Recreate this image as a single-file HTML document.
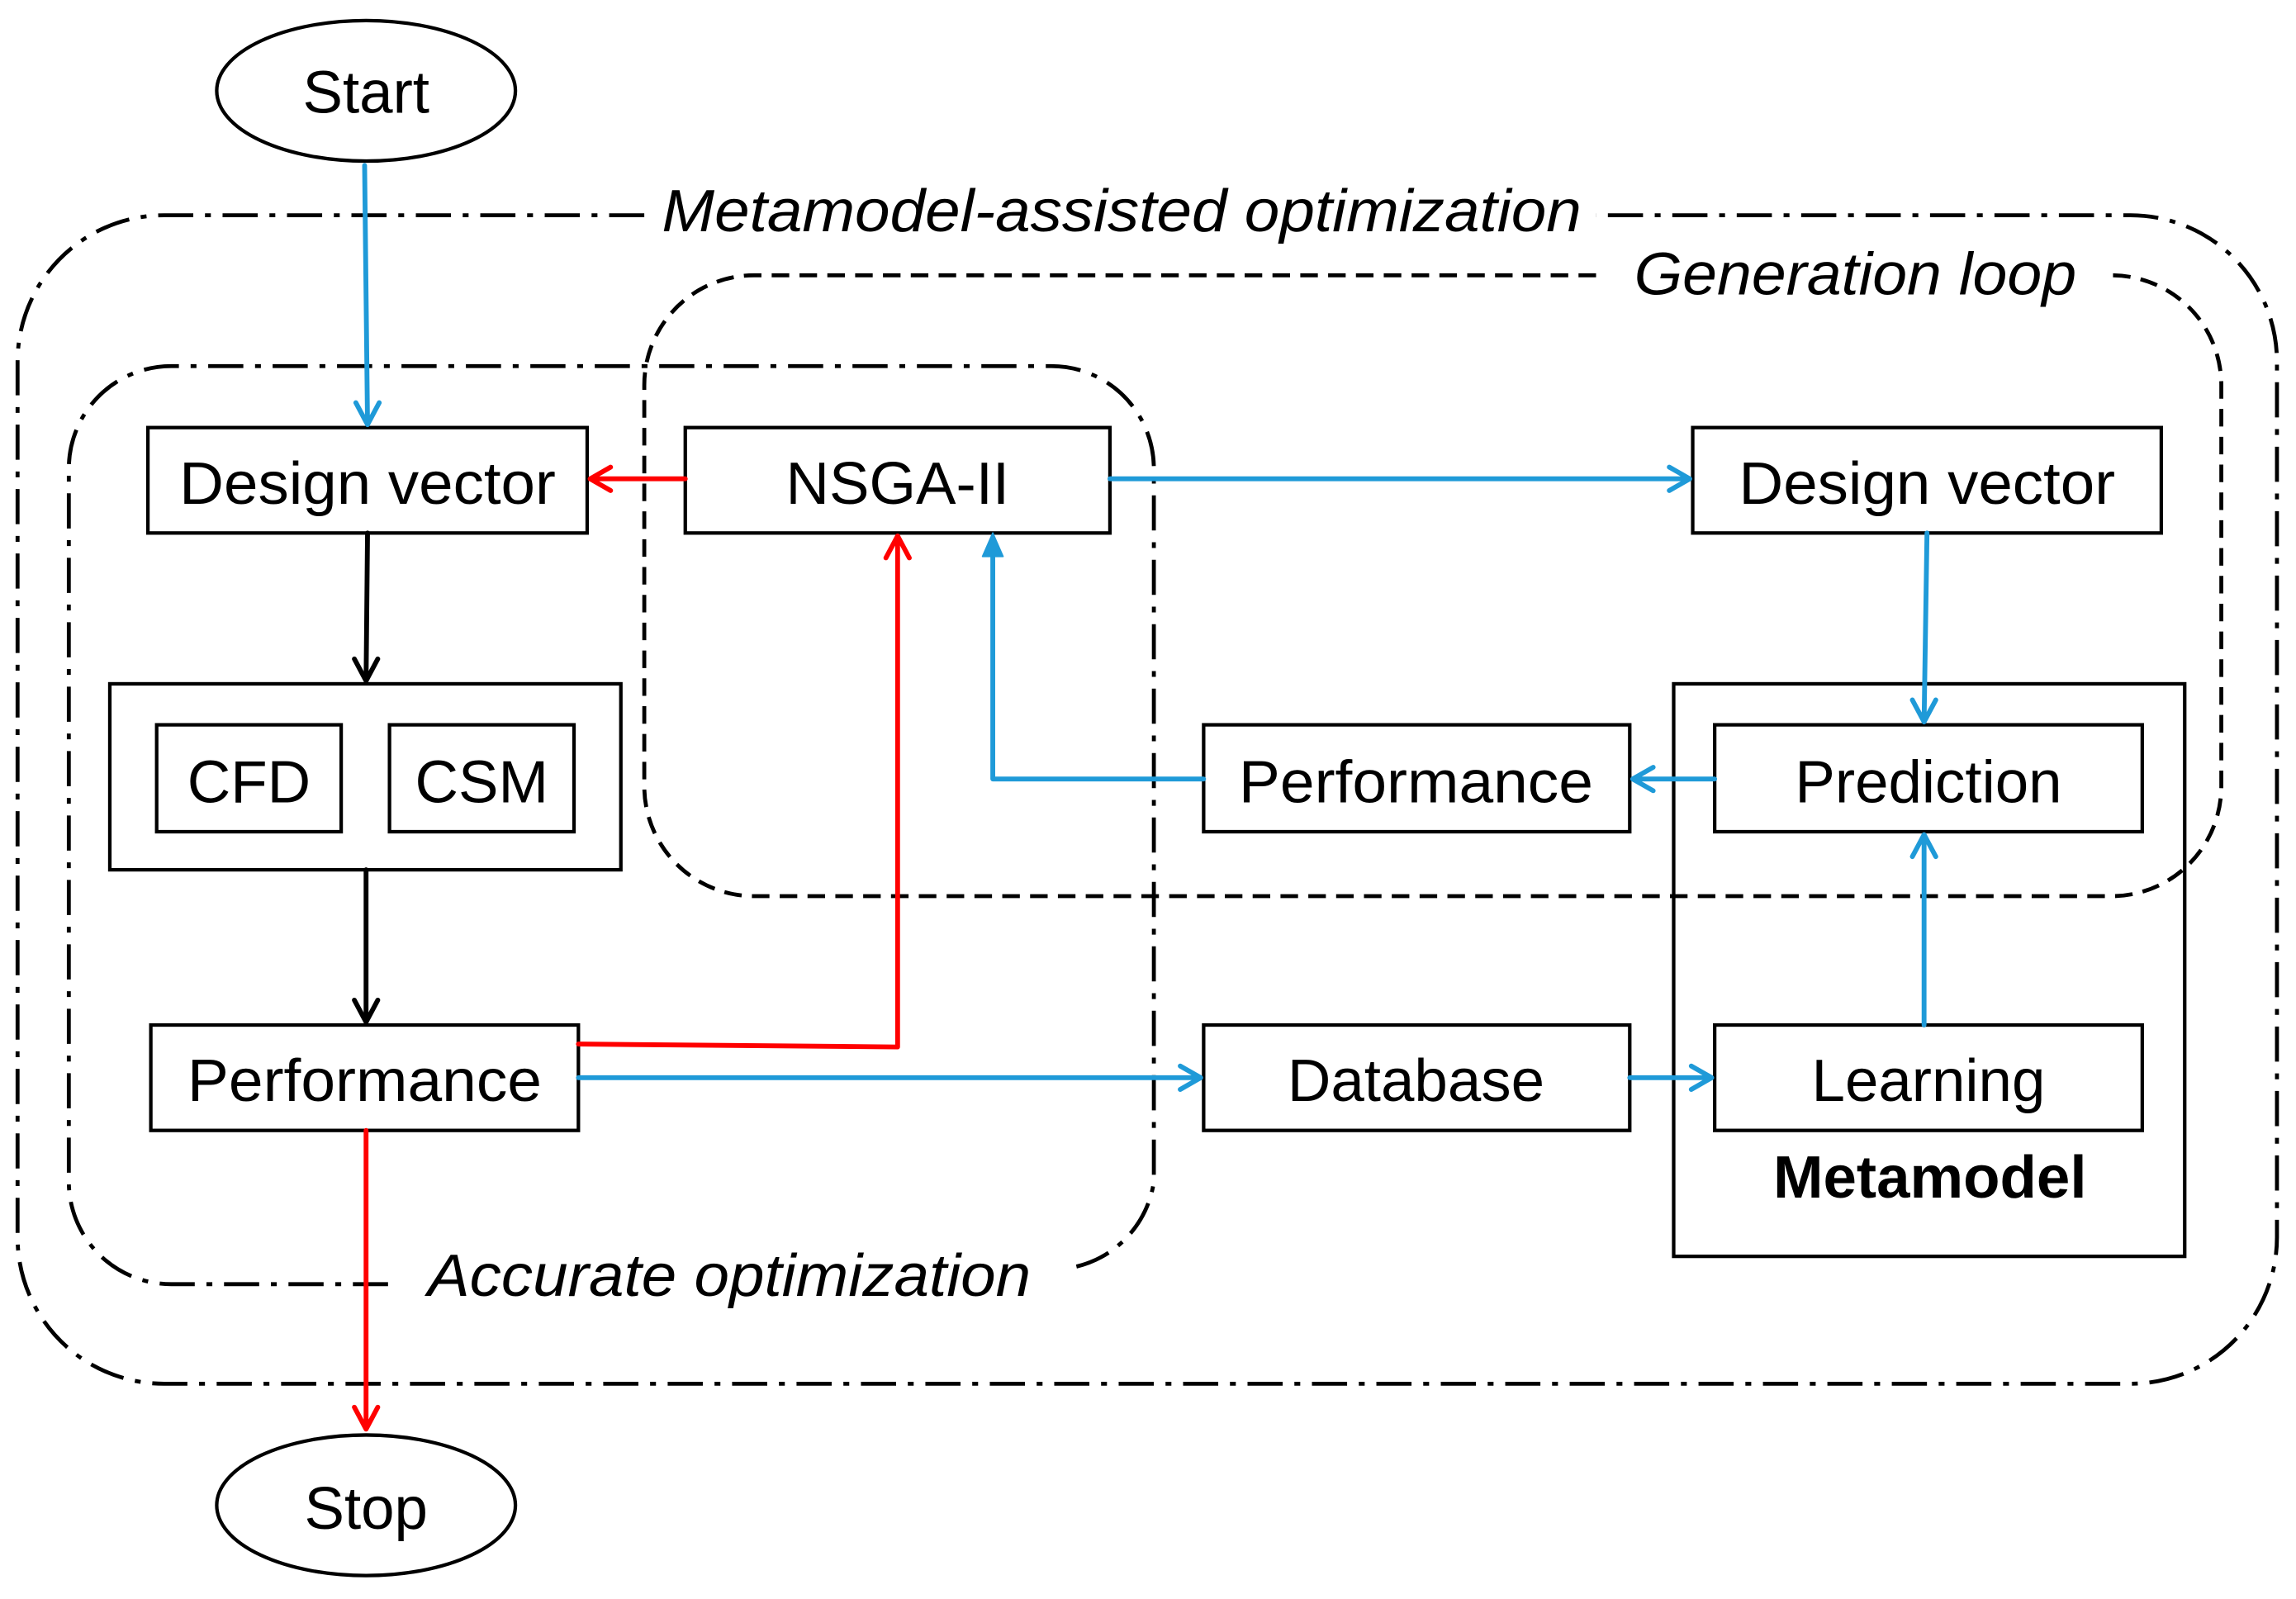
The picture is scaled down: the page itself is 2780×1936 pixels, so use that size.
<!DOCTYPE html>
<html><head><meta charset="utf-8"><style>html,body{margin:0;padding:0;background:#fff}svg{display:block}</style></head>
<body>
<svg width="2780" height="1936" viewBox="0 0 1568 1092" preserveAspectRatio="none" xmlns="http://www.w3.org/2000/svg" font-family="Liberation Sans, sans-serif">
<g fill="none" stroke="#000" stroke-width="2.7">
<path d="M440,147 H112 A100,100 0 0 0 12,247 V845 A100,100 0 0 0 112,945 H1455 A100,100 0 0 0 1555,845 V247 A100,100 0 0 0 1455,147 H1090" stroke-dasharray="24,8,4,8"/>
<path d="M1090,188 H515 A75,75 0 0 0 440,263 V537 A75,75 0 0 0 515,612 H1442 A75,75 0 0 0 1517,537 V263 A75,75 0 0 0 1442,188 H1445" stroke-dasharray="12,7"/>
<path d="M265,877 H117 A70,70 0 0 1 47,807 V320 A70,70 0 0 1 117,250 H718 A70,70 0 0 1 788,320 V807 A70,70 0 0 1 730,866" stroke-dasharray="24,8,4,8"/>
</g>
<g fill="none" stroke="#000" stroke-width="2.4">
<ellipse cx="250" cy="62" rx="102" ry="48"/>
<ellipse cx="250" cy="1028" rx="102" ry="48"/>
<rect x="101" y="292" width="300" height="72"/>
<rect x="468" y="292" width="290" height="72"/>
<rect x="1156" y="292" width="320" height="72"/>
<rect x="75" y="467" width="349" height="127"/>
<rect x="107" y="495" width="126" height="73"/>
<rect x="266" y="495" width="126" height="73"/>
<rect x="103" y="700" width="292" height="72"/>
<rect x="822" y="495" width="291" height="73"/>
<rect x="822" y="700" width="291" height="72"/>
<rect x="1143" y="467" width="349" height="391"/>
<rect x="1171" y="495" width="292" height="73"/>
<rect x="1171" y="700" width="292" height="72"/>
</g>
<g font-size="41" text-anchor="middle" fill="#000">
<text x="250" y="77">Start</text>
<text x="250" y="1044">Stop</text>
<text x="251" y="344" textLength="257" lengthAdjust="spacingAndGlyphs">Design vector</text>
<text x="613" y="344">NSGA-II</text>
<text x="1316" y="344" textLength="257" lengthAdjust="spacingAndGlyphs">Design vector</text>
<text x="170" y="548">CFD</text>
<text x="329" y="548">CSM</text>
<text x="249" y="752" textLength="242" lengthAdjust="spacingAndGlyphs">Performance</text>
<text x="967" y="548" textLength="242" lengthAdjust="spacingAndGlyphs">Performance</text>
<text x="967" y="752">Database</text>
<text x="1317" y="548">Prediction</text>
<text x="1317" y="752">Learning</text>
<text x="1318" y="818" font-weight="bold">Metamodel</text>
<text x="766" y="158" font-style="italic" textLength="628" lengthAdjust="spacingAndGlyphs">Metamodel-assisted optimization</text>
<text x="1267" y="201" font-style="italic" textLength="302" lengthAdjust="spacingAndGlyphs">Generation loop</text>
<text x="498" y="885" font-style="italic" textLength="412" lengthAdjust="spacingAndGlyphs">Accurate optimization</text>
</g>
<g fill="none" stroke-width="3.3" stroke-linecap="round" stroke-linejoin="round">
<g stroke="#1f9ad8">
<path d="M249,113 L251,290 M243,275 L251,290 L259,275"/>
<path d="M758,327 H1154 M1140,319 L1154,327 L1140,335"/>
<path d="M1316,364 L1314,493 M1306,478 L1314,493 L1322,478"/>
<path d="M1171,532 H1115 M1129,524 L1115,532 L1129,540"/>
<path d="M822,532 H678 V380"/>
<path d="M395,736 H820 M806,728 L820,736 L806,744"/>
<path d="M1113,736 H1169 M1155,728 L1169,736 L1155,744"/>
<path d="M1314,700 V570 M1306,585 L1314,570 L1322,585"/>
</g>
<polygon points="678,364 671,380 685,380" fill="#1f9ad8" stroke="#1f9ad8" stroke-width="1"/>
<g stroke="#ff0000">
<path d="M468,327 H403 M417,319 L403,327 L417,335"/>
<path d="M395,713 L613,715 V366 M605,381 L613,366 L621,381"/>
<path d="M250,772 V976 M242,961 L250,976 L258,961"/>
</g>
<g stroke="#000">
<path d="M251,364 L250,465 M242,450 L250,465 L258,450"/>
<path d="M250,594 V698 M242,683 L250,698 L258,683"/>
</g>
</g>
</svg>
</body></html>
